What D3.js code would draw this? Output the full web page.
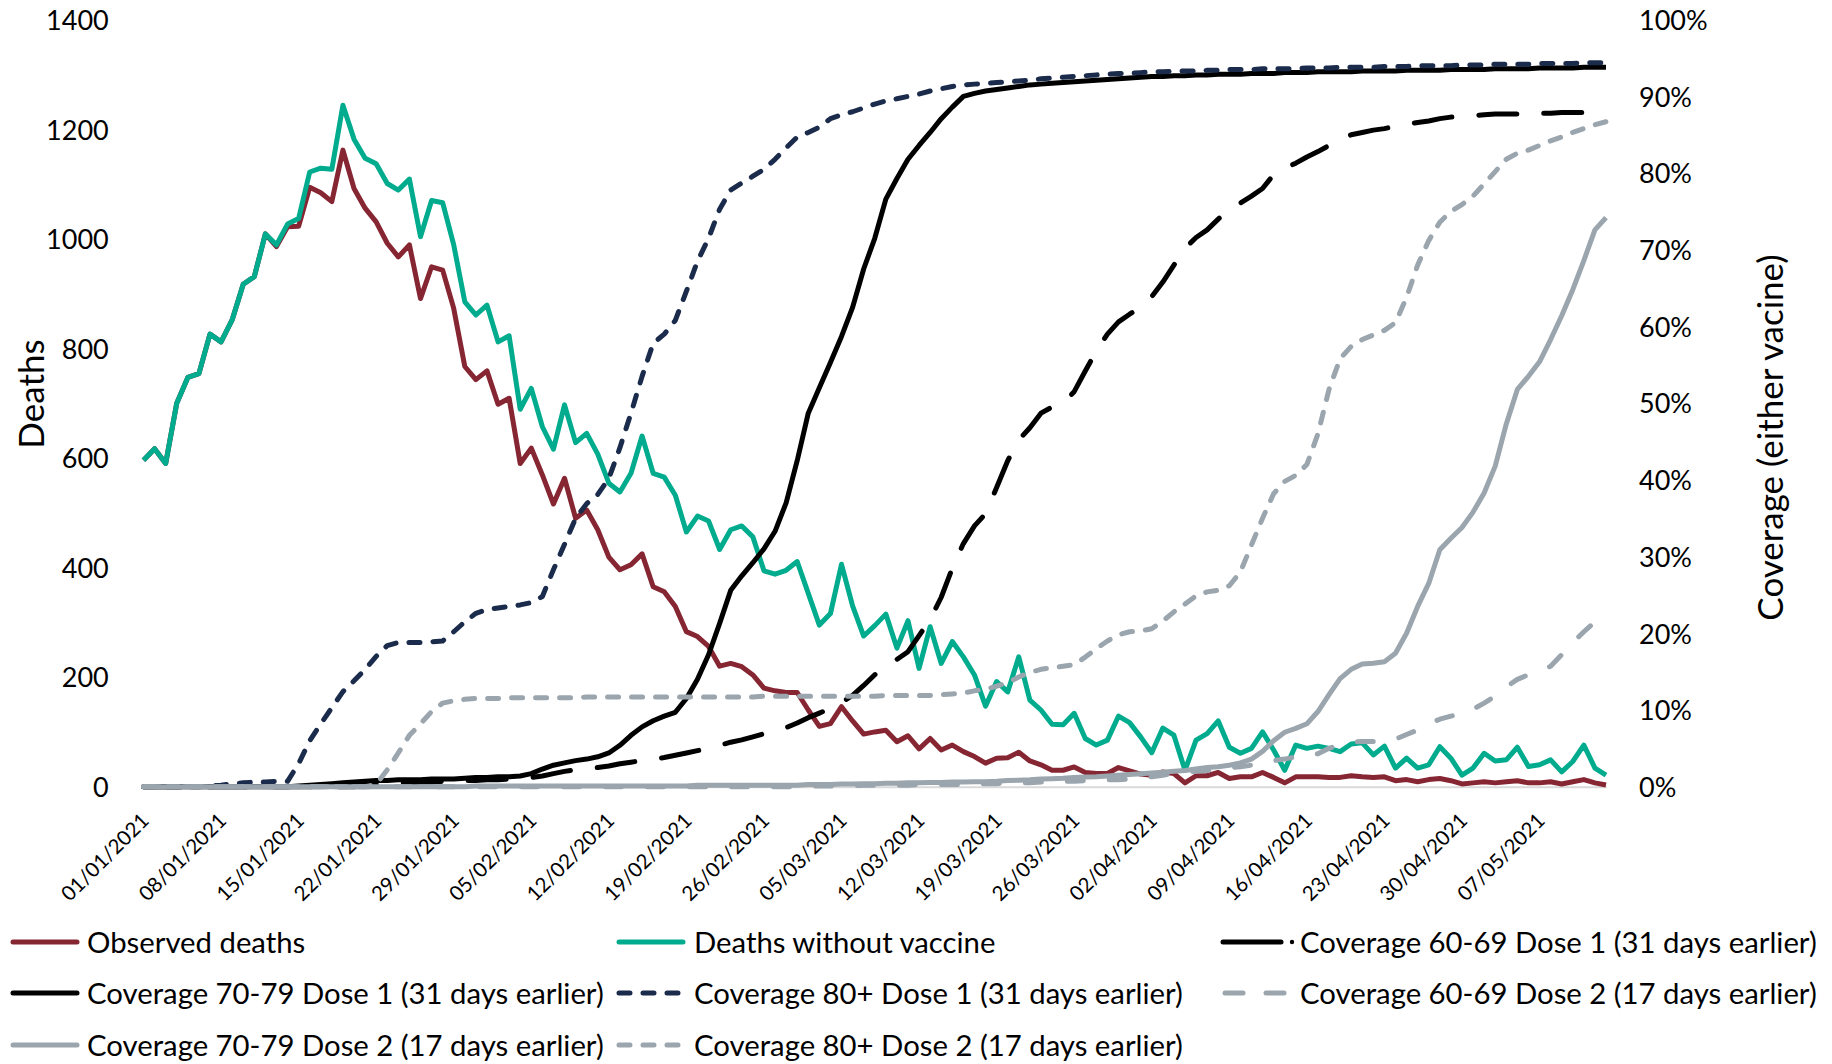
<!DOCTYPE html>
<html>
<head>
<meta charset="utf-8">
<script src="https://cdn.jsdelivr.net/npm/d3@7"></script>
<style>
  body { margin: 0; background: #fff; }
  svg text { font-family: Lato, "Open Sans", sans-serif; fill: #000; }
</style>
</head>
<body>
<svg id="chart" width="1832" height="1064"></svg>
<script>
  // daily series, 01/01/2021 .. 13/05/2021
  let startDate = new Date(2021, 0, 1);

  let observed = [
    596, 617, 590, 700, 747, 754, 826, 812, 852, 917,
    931, 1009, 986, 1022, 1023, 1094, 1084, 1068, 1162, 1092,
    1056, 1031, 992, 967, 989, 891, 949, 943, 873, 767,
    743, 759, 698, 709, 590, 618, 569, 516, 563, 490,
    505, 469, 419, 396, 405, 425, 365, 356, 329, 283,
    274, 256, 220, 225, 219, 204, 180, 175, 172, 172,
    140, 110, 115, 146, 120, 96, 100, 103, 82, 93,
    69, 88, 67, 76, 64, 55, 43, 52, 53, 63,
    47, 40, 30, 30, 36, 26, 24, 24, 35, 29,
    23, 21, 27, 24, 7, 20, 20, 26, 15, 18,
    18, 26, 17, 7, 18, 18, 18, 17, 17, 20,
    18, 17, 18, 11, 13, 9, 13, 15, 11, 5,
    7, 9, 7, 9, 11, 7, 7, 9, 5, 9,
    13, 7, 3
  ];

  let withoutVaccine = [
    596, 617, 590, 700, 747, 754, 826, 812, 852, 917,
    931, 1009, 989, 1027, 1037, 1122, 1129, 1127, 1244, 1182,
    1147, 1137, 1101, 1089, 1109, 1004, 1070, 1066, 989, 885,
    861, 879, 812, 823, 689, 727, 657, 616, 697, 628,
    645, 607, 554, 538, 572, 640, 572, 565, 532, 465,
    494, 485, 433, 469, 476, 456, 394, 388, 395, 411,
    353, 295, 316, 406, 330, 275, 294, 315, 253, 303,
    216, 292, 225, 265, 237, 204, 147, 192, 173, 237,
    158, 140, 114, 113, 134, 88, 76, 85, 129, 117,
    91, 62, 107, 94, 30, 85, 97, 120, 72, 61,
    70, 100, 67, 30, 76, 70, 74, 70, 64, 78,
    80, 58, 74, 34, 52, 34, 40, 73, 52, 21,
    34, 61, 47, 49, 72, 37, 40, 49, 27, 46,
    76, 34, 21
  ];

  // coverage, percent
  let cov6069d1 = [
    0, 0, 0, 0, 0, 0, 0, 0, 0, 0,
    0, 0, 0, 0, 0, 0, 0, 0, 0, 0,
    0.2, 0.3, 0.4, 0.5, 0.5, 0.6, 0.6, 0.7, 0.7, 0.8,
    0.8, 0.9, 0.9, 1.0, 1.0, 1.2, 1.4, 1.7, 2.0, 2.2,
    2.3, 2.5, 2.7, 3.0, 3.2, 3.4, 3.6, 3.8, 4.1, 4.4,
    4.7, 5.0, 5.4, 5.8, 6.1, 6.5, 6.9, 7.2, 7.7, 8.3,
    9.0, 9.6, 10.2, 11.0, 11.9, 13.2, 14.6, 15.7, 16.6, 17.6,
    19.7, 21.8, 24.7, 28.5, 31.7, 34.0, 35.6, 39.0, 42.5, 45.2,
    46.8, 48.7, 49.5, 50.0, 51.5, 54.2, 56.8, 59.0, 60.6, 61.6,
    62.5, 63.9, 65.8, 68.0, 70.2, 71.6, 72.6, 74.0, 75.3, 76.1,
    77.0, 78.0, 79.8, 80.6, 81.3, 82.1, 82.8, 83.6, 84.3, 85.0,
    85.3, 85.6, 85.8, 86.1, 86.4, 86.6, 86.8, 87.1, 87.3, 87.4,
    87.5, 87.6, 87.7, 87.7, 87.7, 87.8, 87.8, 87.8, 87.9, 87.9,
    87.9, 88.0, 88.0
  ];

  let cov7079d1 = [
    0, 0, 0, 0, 0, 0, 0, 0, 0, 0,
    0, 0, 0, 0, 0.1, 0.2, 0.3, 0.4, 0.5, 0.6,
    0.7, 0.8, 0.8, 0.9, 0.9, 0.9, 1.0, 1.0, 1.0, 1.1,
    1.2, 1.2, 1.3, 1.3, 1.4, 1.7, 2.3, 2.8, 3.1, 3.4,
    3.6, 3.9, 4.4, 5.4, 6.7, 7.8, 8.6, 9.2, 9.7, 11.5,
    14.0, 17.2, 21.3, 25.6, 27.5, 29.2, 31.0, 33.3, 37.0, 42.5,
    48.7, 52.0, 55.3, 58.7, 62.5, 67.5, 71.5, 76.6, 79.3, 81.8,
    83.6, 85.3, 87.1, 88.6, 90.0, 90.4, 90.7, 90.9, 91.1, 91.3,
    91.5, 91.6, 91.7, 91.8, 91.9, 92.0, 92.1, 92.2, 92.3, 92.4,
    92.5, 92.6, 92.6, 92.7, 92.7, 92.8, 92.8, 92.9, 92.9, 92.9,
    93.0, 93.0, 93.0, 93.1, 93.1, 93.1, 93.2, 93.2, 93.2, 93.2,
    93.3, 93.3, 93.3, 93.3, 93.4, 93.4, 93.4, 93.4, 93.5, 93.5,
    93.5, 93.5, 93.6, 93.6, 93.6, 93.6, 93.7, 93.7, 93.7, 93.7,
    93.8, 93.8, 93.8
  ];

  let cov80d1 = [
    0, 0, 0, 0, 0, 0, 0.1, 0.2, 0.4, 0.5,
    0.6, 0.6, 0.7, 0.7, 3.0, 6.0, 8.2, 10.3, 12.4, 13.8,
    15.3, 17.0, 18.4, 18.8, 18.8, 18.8, 18.9, 19.0, 20.2, 21.5,
    22.6, 23.1, 23.3, 23.5, 23.7, 24.0, 24.8, 28.3, 31.6, 35.0,
    36.9, 38.1, 40.2, 44.2, 48.7, 53.5, 57.8, 59.0, 60.8, 64.6,
    68.5, 71.5, 75.3, 77.8, 78.7, 79.6, 80.5, 81.8, 83.3, 84.7,
    85.3, 86.0, 87.1, 87.6, 88.0, 88.5, 89.0, 89.4, 89.7, 90.0,
    90.3, 90.7, 91.0, 91.3, 91.5, 91.6, 91.7, 91.8, 91.9, 92.0,
    92.1, 92.3, 92.4, 92.5, 92.6, 92.7, 92.8, 92.9, 93.0, 93.0,
    93.1, 93.2, 93.2, 93.3, 93.3, 93.3, 93.4, 93.4, 93.5, 93.5,
    93.5, 93.6, 93.6, 93.6, 93.6, 93.7, 93.7, 93.7, 93.8, 93.8,
    93.8, 93.8, 93.9, 93.9, 93.9, 94.0, 94.0, 94.0, 94.0, 94.1,
    94.1, 94.1, 94.2, 94.2, 94.2, 94.2, 94.3, 94.3, 94.3, 94.3,
    94.4, 94.4, 94.4
  ];

  let cov6069d2 = [
    0, 0, 0, 0, 0, 0, 0, 0, 0, 0,
    0, 0, 0, 0, 0, 0, 0, 0, 0, 0,
    0, 0, 0, 0, 0, 0, 0, 0, 0, 0,
    0, 0, 0, 0, 0, 0, 0, 0, 0, 0,
    0, 0, 0, 0, 0, 0, 0, 0, 0, 0,
    0, 0, 0, 0, 0, 0, 0, 0, 0, 0,
    0.1, 0.1, 0.1, 0.1, 0.1, 0.2, 0.2, 0.2, 0.2, 0.2,
    0.3, 0.3, 0.3, 0.3, 0.3, 0.4, 0.4, 0.4, 0.5, 0.5,
    0.5, 0.6, 0.6, 0.7, 0.7, 0.8, 0.8, 0.9, 0.9, 1.0,
    1.1, 1.3, 1.5, 1.7, 1.9, 2.0, 2.1, 2.3, 2.5, 2.6,
    2.8, 3.1, 3.4, 3.6, 3.9, 4.1, 4.3, 5.0, 5.5, 5.8,
    5.9, 5.9, 6.0, 6.2, 6.8, 7.4, 8.2, 8.8, 9.2, 9.5,
    10.1, 10.9, 11.8, 13.0, 14.0, 14.6, 15.1, 15.7, 17.2, 18.8,
    20.2, 21.5, 22.8
  ];

  let cov7079d2 = [
    0, 0, 0, 0, 0, 0, 0, 0, 0, 0,
    0, 0, 0, 0, 0, 0, 0, 0, 0, 0,
    0, 0, 0, 0, 0, 0, 0, 0, 0, 0,
    0.1, 0.1, 0.1, 0.1, 0.1, 0.1, 0.1, 0.1, 0.1, 0.1,
    0.1, 0.1, 0.1, 0.1, 0.1, 0.1, 0.1, 0.1, 0.1, 0.1,
    0.2, 0.2, 0.2, 0.2, 0.2, 0.2, 0.2, 0.2, 0.2, 0.2,
    0.3, 0.3, 0.3, 0.35, 0.35, 0.4, 0.4, 0.45, 0.45, 0.5,
    0.5, 0.55, 0.55, 0.6, 0.6, 0.65, 0.65, 0.7, 0.8, 0.85,
    0.9, 1.0, 1.05, 1.1, 1.2, 1.25, 1.3, 1.4, 1.5, 1.6,
    1.7, 1.8, 1.9, 2.0, 2.1, 2.3, 2.5, 2.6, 2.8, 3.1,
    3.6, 4.6, 6.0, 7.1, 7.6, 8.2, 9.8, 12.0, 14.1, 15.3,
    16.0, 16.1, 16.3, 17.4, 20.0, 23.5, 26.5, 30.9, 32.4, 33.8,
    35.8, 38.3, 41.8, 47.3, 51.8, 53.5, 55.4, 58.3, 61.4, 64.8,
    68.6, 72.6, 74.2
  ];

  let cov80d2 = [
    0, 0, 0, 0, 0, 0, 0, 0, 0, 0,
    0, 0, 0, 0, 0, 0, 0, 0, 0, 0,
    0, 0.3, 2.2, 4.4, 6.7, 8.2, 9.8, 10.9, 11.2, 11.4,
    11.5, 11.5, 11.5, 11.6, 11.6, 11.6, 11.6, 11.6, 11.6, 11.6,
    11.7, 11.7, 11.7, 11.7, 11.7, 11.7, 11.7, 11.7, 11.7, 11.7,
    11.7, 11.7, 11.7, 11.7, 11.7, 11.7, 11.8, 11.8, 11.8, 11.8,
    11.8, 11.8, 11.8, 11.8, 11.8, 11.8, 11.8, 11.9, 11.9, 11.9,
    11.9, 11.9, 12.0, 12.1, 12.2, 12.5, 12.7, 13.1, 13.6, 14.3,
    14.9, 15.3, 15.5, 15.7, 15.9, 16.9, 18.0, 19.0, 19.8, 20.2,
    20.3, 20.6, 21.6, 22.8, 23.8, 24.9, 25.4, 25.6, 26.2, 28.0,
    31.5, 35.0, 38.2, 39.8, 40.6, 42.0, 46.0, 51.8, 55.8, 57.4,
    58.3, 58.9, 59.5, 60.5, 63.8, 68.0, 71.2, 73.6, 75.0, 75.9,
    77.0, 78.6, 80.2, 81.8, 82.6, 83.0, 83.6, 84.2, 84.7, 85.3,
    85.8, 86.3, 86.7
  ];

  let deathTicks = [0, 200, 400, 600, 800, 1000, 1200, 1400];
  let coverageTicks = [0, 10, 20, 30, 40, 50, 60, 70, 80, 90, 100];
  let dateTickLabels = ["01/01/2021", "08/01/2021", "15/01/2021", "22/01/2021",
    "29/01/2021", "05/02/2021", "12/02/2021", "19/02/2021", "26/02/2021",
    "05/03/2021", "12/03/2021", "19/03/2021", "26/03/2021", "02/04/2021",
    "09/04/2021", "16/04/2021", "23/04/2021", "30/04/2021", "07/05/2021"];

  // цвета и стили линий
  let maroon = "#862633", teal = "#00ab8e", navy = "#1b2b4b", grey = "#9aa5ae";
  let shortDash = "11 13", longDash = "38 27", midDash = "16 26";

  let series = [
    { name: "Observed deaths", values: observed, axis: "L", color: maroon, dash: null },
    { name: "Deaths without vaccine", values: withoutVaccine, axis: "L", color: teal, dash: null },
    { name: "Coverage 60-69 Dose 1 (31 days earlier)", values: cov6069d1, axis: "R", color: "#000", dash: longDash, key: "dashdot" },
    { name: "Coverage 70-79 Dose 1 (31 days earlier)", values: cov7079d1, axis: "R", color: "#000", dash: null },
    { name: "Coverage 80+ Dose 1 (31 days earlier)", values: cov80d1, axis: "R", color: navy, dash: shortDash },
    { name: "Coverage 60-69 Dose 2 (17 days earlier)", values: cov6069d2, axis: "R", color: grey, dash: midDash, key: "twodash" },
    { name: "Coverage 70-79 Dose 2 (17 days earlier)", values: cov7079d2, axis: "R", color: grey, dash: null },
    { name: "Coverage 80+ Dose 2 (17 days earlier)", values: cov80d2, axis: "R", color: grey, dash: shortDash }
  ];

  let dates = observed.map((v, i) => d3.timeDay.offset(startDate, i));
  let parseDate = d3.timeParse("%d/%m/%Y");

  let svg = d3.select("#chart");

  // шкалы
  let plotTop = 19.7, plotBottom = 786.7;
  let x = d3.scaleTime().domain([dates[0], dates[dates.length - 1]]).range([143.5, 1606]);
  let yL = d3.scaleLinear().domain([0, 1400]).range([plotBottom, plotTop]);
  let yR = d3.scaleLinear().domain([0, 100]).range([plotBottom, plotTop]);

  // оси
  svg.append("g").attr("transform", "translate(108.7,0)")
    .call(d3.axisLeft(yL).tickValues(deathTicks).tickFormat(d3.format("d"))
      .tickSize(0).tickPadding(0))
    .call(g => g.select(".domain").remove())
    .attr("font-size", 27)
    .selectAll("text").attr("dy", "0.36em");

  svg.append("g").attr("transform", "translate(1639,0)")
    .call(d3.axisRight(yR).tickValues(coverageTicks).tickFormat(d => d + "%")
      .tickSize(0).tickPadding(0))
    .call(g => g.select(".domain").remove())
    .attr("font-size", 27)
    .selectAll("text").attr("dy", "0.36em");

  let xAxis = svg.append("g").attr("transform", `translate(0,${plotBottom})`)
    .call(d3.axisBottom(x).tickValues(dateTickLabels.map(parseDate))
      .tickFormat(d3.timeFormat("%d/%m/%Y")).tickSize(0).tickSizeOuter(0))
    .attr("font-size", 20.5);
  xAxis.select(".domain").attr("stroke", "#d9d9d9").attr("stroke-width", 2);
  xAxis.selectAll("text")
    .attr("x", 0).attr("y", 0).attr("dy", "0.36em")
    .attr("text-anchor", "end")
    .attr("transform", "translate(1,30) rotate(-45)");

  // подписи осей
  svg.append("text").text("Deaths")
    .attr("transform", "translate(44,394) rotate(-90)")
    .attr("text-anchor", "middle").attr("font-size", 35);

  svg.append("text").text("Coverage (either vacine)")
    .attr("transform", "translate(1783,437.5) rotate(-90)")
    .attr("text-anchor", "middle").attr("font-size", 35);

  // линии
  let lineFor = s => d3.line()
    .defined(v => v != null)
    .x((v, i) => x(dates[i]))
    .y(v => s.axis == "L" ? yL(v) : yR(v));

  svg.append("g").selectAll("path").data(series).enter().append("path")
    .attr("d", s => lineFor(s)(s.values))
    .attr("fill", "none")
    .attr("stroke", s => s.color)
    .attr("stroke-width", 5)
    .attr("stroke-linejoin", "round")
    .attr("stroke-linecap", s => s.dash ? "round" : "butt")
    .attr("stroke-dasharray", s => s.dash);

  // легенда
  let colX = [13, 619, 1223], textX = [87, 694, 1300], rowY = [942, 993, 1045];
  let legend = svg.append("g").selectAll("g").data(series).enter().append("g")
    .attr("transform", (s, i) => `translate(0,${rowY[Math.floor(i / 3)]})`);

  legend.each(function (s, i) {
    let g = d3.select(this), c = i % 3, x0 = colX[c];
    let key = g.append("g").attr("stroke", s.color).attr("stroke-width", 5)
      .attr("stroke-linecap", "round").attr("fill", "none");
    if (s.key == "dashdot") {
      key.append("line").attr("x1", x0).attr("x2", x0 + 58);
      g.append("circle").attr("cx", x0 + 69).attr("cy", 0).attr("r", 2.2).attr("fill", s.color);
    } else if (s.key == "twodash") {
      key.append("line").attr("x1", x0 + 2).attr("x2", x0 + 20);
      key.append("line").attr("x1", x0 + 43).attr("x2", x0 + 61);
    } else {
      key.append("line").attr("x1", x0).attr("x2", x0 + 64)
        .attr("stroke-dasharray", s.dash ? shortDash : null);
    }
    g.append("text").text(s.name).attr("x", textX[c]).attr("dy", "0.36em")
      .attr("font-size", 29.3);
  });
</script>
</body>
</html>
